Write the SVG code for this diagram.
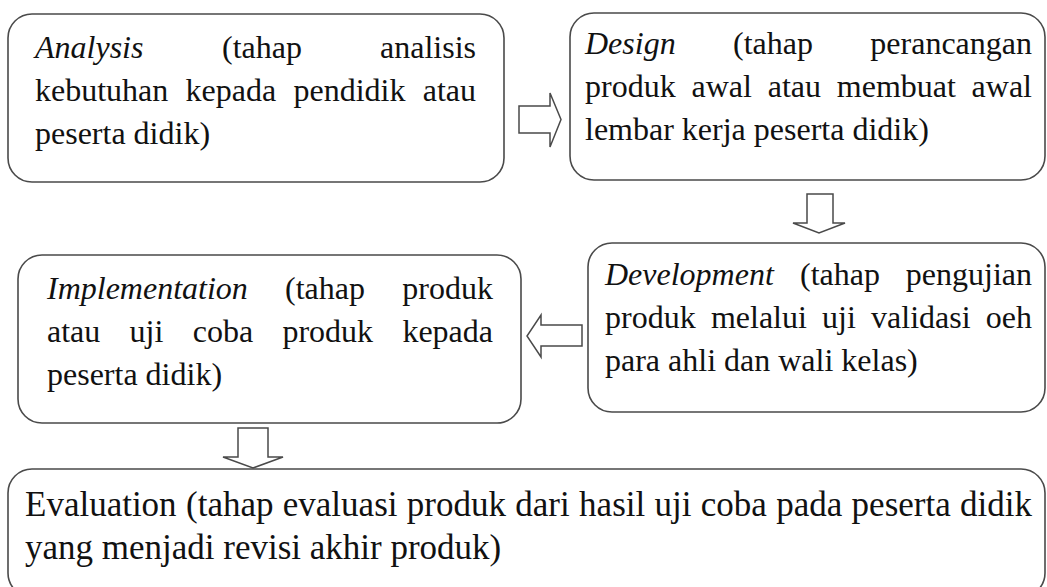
<svg xmlns="http://www.w3.org/2000/svg" width="1047" height="587" viewBox="0 0 1047 587">
<style>
.box{fill:#fff;stroke:#4a4a4a;stroke-width:1.6}
.arr{fill:#fff;stroke:#4a4a4a;stroke-width:1.5;stroke-linejoin:miter}
.t{font-family:"Liberation Serif","Times New Roman",Tinos,serif;font-size:32px;fill:#111}
.ev{font-size:35px}
.i{font-style:italic}
</style>
<rect width="1047" height="587" fill="#fff"/>
<g id="connectors">
<polygon class="arr" points="519,106 550,106 550,93 561,119.5 550,147 550,133 519,133"/>
<polygon class="arr" points="807,194 833,194 833,223 845,223 819,233 793,223 807,223"/>
<polygon class="arr" points="582,325 541,325 541,315 527,336 541,357 541,346 582,346"/>
<polygon class="arr" points="238,428 268,428 268,457 283,457 253,468 223,457 238,457"/>
</g>
<g id="analysis">
<rect class="box" x="8" y="14" width="496" height="168" rx="24"/>
<text class="t" y="58"><tspan class="i" x="35">Analysis</tspan><tspan x="222">(tahap</tspan><tspan x="476" text-anchor="end">analisis</tspan></text>
<text class="t" y="101"><tspan x="35">kebutuhan</tspan><tspan x="185.6">kepada</tspan><tspan x="293.5">pendidik</tspan><tspan x="476" text-anchor="end">atau</tspan></text>
<text class="t" x="35" y="144">peserta didik)</text>
</g>
<g id="design">
<rect class="box" x="570" y="13" width="475" height="167" rx="24"/>
<text class="t" y="54"><tspan class="i" x="585">Design</tspan><tspan x="733">(tahap</tspan><tspan x="1032" text-anchor="end">perancangan</tspan></text>
<text class="t" y="97"><tspan x="585">produk</tspan><tspan x="691.5">awal</tspan><tspan x="767.7">atau</tspan><tspan x="836.8">membuat</tspan><tspan x="1032" text-anchor="end">awal</tspan></text>
<text class="t" x="585" y="140">lembar kerja peserta didik)</text>
</g>
<g id="development">
<rect class="box" x="588" y="243" width="457" height="169" rx="24"/>
<text class="t" y="285"><tspan class="i" x="605">Development</tspan><tspan x="800">(tahap</tspan><tspan x="1032" text-anchor="end">pengujian</tspan></text>
<text class="t" y="328"><tspan x="605">produk</tspan><tspan x="710.9">melalui</tspan><tspan x="822.1">uji</tspan><tspan x="871.1">validasi</tspan><tspan x="1032" text-anchor="end">oeh</tspan></text>
<text class="t" x="605" y="371">para ahli dan wali kelas)</text>
</g>
<g id="implementation">
<rect class="box" x="18" y="255" width="503" height="168" rx="24"/>
<text class="t" y="299"><tspan class="i" x="47">Implementation</tspan><tspan x="285">(tahap</tspan><tspan x="493" text-anchor="end">produk</tspan></text>
<text class="t" y="342"><tspan x="47">atau</tspan><tspan x="129.6">uji</tspan><tspan x="192.7">coba</tspan><tspan x="282.4">produk</tspan><tspan x="493" text-anchor="end">kepada</tspan></text>
<text class="t" x="47" y="385">peserta didik)</text>
</g>
<g id="evaluation">
<rect class="box" x="8" y="469" width="1037" height="128" rx="24"/>
<text class="t ev" y="516"><tspan x="25">Evaluation</tspan><tspan x="186">(tahap</tspan><tspan x="282.8">evaluasi</tspan><tspan x="406.8">produk</tspan><tspan x="515.3">dari</tspan><tspan x="579.1">hasil</tspan><tspan x="654.5">uji</tspan><tspan x="700.8">coba</tspan><tspan x="776.2">pada</tspan><tspan x="851.6">peserta</tspan><tspan x="1032" text-anchor="end">didik</tspan></text>
<text class="t ev" x="25" y="559">yang menjadi revisi akhir produk)</text>
</g>
</svg>
